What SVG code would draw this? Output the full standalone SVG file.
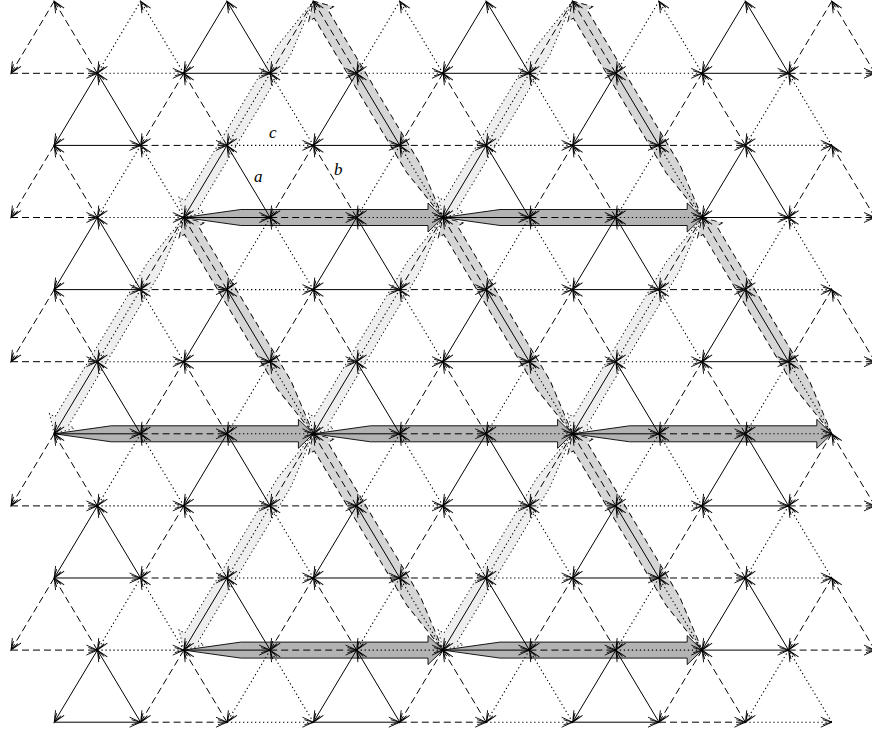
<svg xmlns="http://www.w3.org/2000/svg" width="872" height="731" viewBox="0 0 872 731">
<style>
.e{fill:none;stroke:#000;stroke-width:1;marker-end:url(#ah)}
.d{stroke-dasharray:7 4}
.t{stroke-dasharray:1.3 2.7;stroke-width:1.1}
.bh{fill:#b3b3b3;stroke:#000;stroke-width:0.9}
.bm{fill:#d6d6d6;stroke:#000;stroke-width:0.9;stroke-dasharray:6 4}
.bl{fill:#eeeeee;stroke:#000;stroke-width:0.9;stroke-dasharray:1.3 2.7}
text{font-family:"Liberation Serif",serif;font-style:italic;font-size:17px}
</style>
<defs>
<marker id="ah" markerUnits="userSpaceOnUse" markerWidth="16" markerHeight="16" refX="12" refY="8" orient="auto" overflow="visible"><path d="M1 3L12 8L1 13M3 5.5L12 8L3 10.5" fill="none" stroke="#000" stroke-width="0.9" stroke-dasharray="none"/></marker>
<g id="w"><path d="M-43.2 72.1H43.2"/><path d="M43.2 72.1L0 0"/><path d="M0 0L-43.2 72.1"/></g>
<path id="h" d="M0 0L57 8H244.2V14.5L259.2 0L244.2 -14.5V-8H57Z"/>
<path id="g" d="M0 0L57 8H237.2V14.5L252.2 0L237.2 -14.5V-8H57Z"/>
</defs>
<rect width="872" height="731" fill="#fff"/>
<g id="bands">
<use href="#g" class="bl" transform="translate(313.4 1.2) rotate(120.93)"/>
<use href="#g" class="bl" transform="translate(572.6 1.2) rotate(120.93)"/>
<use href="#g" class="bl" transform="translate(183.8 217.5) rotate(120.93)"/>
<use href="#g" class="bl" transform="translate(443 217.5) rotate(120.93)"/>
<use href="#g" class="bl" transform="translate(702.2 217.5) rotate(120.93)"/>
<use href="#g" class="bl" transform="translate(313.4 433.8) rotate(120.93)"/>
<use href="#g" class="bl" transform="translate(572.6 433.8) rotate(120.93)"/>
<use href="#g" class="bm" transform="translate(443 217.5) rotate(-120.93)"/>
<use href="#g" class="bm" transform="translate(702.2 217.5) rotate(-120.93)"/>
<use href="#g" class="bm" transform="translate(313.4 433.8) rotate(-120.93)"/>
<use href="#g" class="bm" transform="translate(572.6 433.8) rotate(-120.93)"/>
<use href="#g" class="bm" transform="translate(831.8 433.8) rotate(-120.93)"/>
<use href="#g" class="bm" transform="translate(443 650.1) rotate(-120.93)"/>
<use href="#g" class="bm" transform="translate(702.2 650.1) rotate(-120.93)"/>
<use href="#h" class="bh" transform="translate(183.8 217.5)"/>
<use href="#h" class="bh" transform="translate(443 217.5)"/>
<use href="#h" class="bh" transform="translate(54.2 433.8)"/>
<use href="#h" class="bh" transform="translate(313.4 433.8)"/>
<use href="#h" class="bh" transform="translate(572.6 433.8)"/>
<use href="#h" class="bh" transform="translate(183.8 650.1)"/>
<use href="#h" class="bh" transform="translate(443 650.1)"/>
</g>
<g id="lattice">
<use href="#w" x="54.2" y="1.2" class="e d"/><use href="#w" x="140.6" y="1.2" class="e t"/><use href="#w" x="227" y="1.2" class="e"/><use href="#w" x="313.4" y="1.2" class="e d"/><use href="#w" x="399.8" y="1.2" class="e t"/><use href="#w" x="486.2" y="1.2" class="e"/><use href="#w" x="572.6" y="1.2" class="e d"/><use href="#w" x="659" y="1.2" class="e t"/><use href="#w" x="745.4" y="1.2" class="e"/><use href="#w" x="831.8" y="1.2" class="e d"/>
<use href="#w" x="97.4" y="73.3" class="e"/><use href="#w" x="183.8" y="73.3" class="e d"/><use href="#w" x="270.2" y="73.3" class="e t"/><use href="#w" x="356.6" y="73.3" class="e"/><use href="#w" x="443" y="73.3" class="e d"/><use href="#w" x="529.4" y="73.3" class="e t"/><use href="#w" x="615.8" y="73.3" class="e"/><use href="#w" x="702.2" y="73.3" class="e d"/><use href="#w" x="788.6" y="73.3" class="e t"/>
<use href="#w" x="54.2" y="145.4" class="e d"/><use href="#w" x="140.6" y="145.4" class="e t"/><use href="#w" x="227" y="145.4" class="e"/><use href="#w" x="313.4" y="145.4" class="e d"/><use href="#w" x="399.8" y="145.4" class="e t"/><use href="#w" x="486.2" y="145.4" class="e"/><use href="#w" x="572.6" y="145.4" class="e d"/><use href="#w" x="659" y="145.4" class="e t"/><use href="#w" x="745.4" y="145.4" class="e"/><use href="#w" x="831.8" y="145.4" class="e d"/>
<use href="#w" x="97.4" y="217.5" class="e"/><use href="#w" x="183.8" y="217.5" class="e d"/><use href="#w" x="270.2" y="217.5" class="e t"/><use href="#w" x="356.6" y="217.5" class="e"/><use href="#w" x="443" y="217.5" class="e d"/><use href="#w" x="529.4" y="217.5" class="e t"/><use href="#w" x="615.8" y="217.5" class="e"/><use href="#w" x="702.2" y="217.5" class="e d"/><use href="#w" x="788.6" y="217.5" class="e t"/>
<use href="#w" x="54.2" y="289.6" class="e d"/><use href="#w" x="140.6" y="289.6" class="e t"/><use href="#w" x="227" y="289.6" class="e"/><use href="#w" x="313.4" y="289.6" class="e d"/><use href="#w" x="399.8" y="289.6" class="e t"/><use href="#w" x="486.2" y="289.6" class="e"/><use href="#w" x="572.6" y="289.6" class="e d"/><use href="#w" x="659" y="289.6" class="e t"/><use href="#w" x="745.4" y="289.6" class="e"/><use href="#w" x="831.8" y="289.6" class="e d"/>
<use href="#w" x="97.4" y="361.7" class="e"/><use href="#w" x="183.8" y="361.7" class="e d"/><use href="#w" x="270.2" y="361.7" class="e t"/><use href="#w" x="356.6" y="361.7" class="e"/><use href="#w" x="443" y="361.7" class="e d"/><use href="#w" x="529.4" y="361.7" class="e t"/><use href="#w" x="615.8" y="361.7" class="e"/><use href="#w" x="702.2" y="361.7" class="e d"/><use href="#w" x="788.6" y="361.7" class="e t"/>
<use href="#w" x="54.2" y="433.8" class="e d"/><use href="#w" x="140.6" y="433.8" class="e t"/><use href="#w" x="227" y="433.8" class="e"/><use href="#w" x="313.4" y="433.8" class="e d"/><use href="#w" x="399.8" y="433.8" class="e t"/><use href="#w" x="486.2" y="433.8" class="e"/><use href="#w" x="572.6" y="433.8" class="e d"/><use href="#w" x="659" y="433.8" class="e t"/><use href="#w" x="745.4" y="433.8" class="e"/><use href="#w" x="831.8" y="433.8" class="e d"/>
<use href="#w" x="97.4" y="505.9" class="e"/><use href="#w" x="183.8" y="505.9" class="e d"/><use href="#w" x="270.2" y="505.9" class="e t"/><use href="#w" x="356.6" y="505.9" class="e"/><use href="#w" x="443" y="505.9" class="e d"/><use href="#w" x="529.4" y="505.9" class="e t"/><use href="#w" x="615.8" y="505.9" class="e"/><use href="#w" x="702.2" y="505.9" class="e d"/><use href="#w" x="788.6" y="505.9" class="e t"/>
<use href="#w" x="54.2" y="578" class="e d"/><use href="#w" x="140.6" y="578" class="e t"/><use href="#w" x="227" y="578" class="e"/><use href="#w" x="313.4" y="578" class="e d"/><use href="#w" x="399.8" y="578" class="e t"/><use href="#w" x="486.2" y="578" class="e"/><use href="#w" x="572.6" y="578" class="e d"/><use href="#w" x="659" y="578" class="e t"/><use href="#w" x="745.4" y="578" class="e"/><use href="#w" x="831.8" y="578" class="e d"/>
<use href="#w" x="97.4" y="650.1" class="e"/><use href="#w" x="183.8" y="650.1" class="e d"/><use href="#w" x="270.2" y="650.1" class="e t"/><use href="#w" x="356.6" y="650.1" class="e"/><use href="#w" x="443" y="650.1" class="e d"/><use href="#w" x="529.4" y="650.1" class="e t"/><use href="#w" x="615.8" y="650.1" class="e"/><use href="#w" x="702.2" y="650.1" class="e d"/><use href="#w" x="788.6" y="650.1" class="e t"/>
</g>
<g id="labels">
<text x="254" y="182">a</text>
<text x="334" y="175">b</text>
<text x="269" y="138">c</text>
</g>
</svg>
